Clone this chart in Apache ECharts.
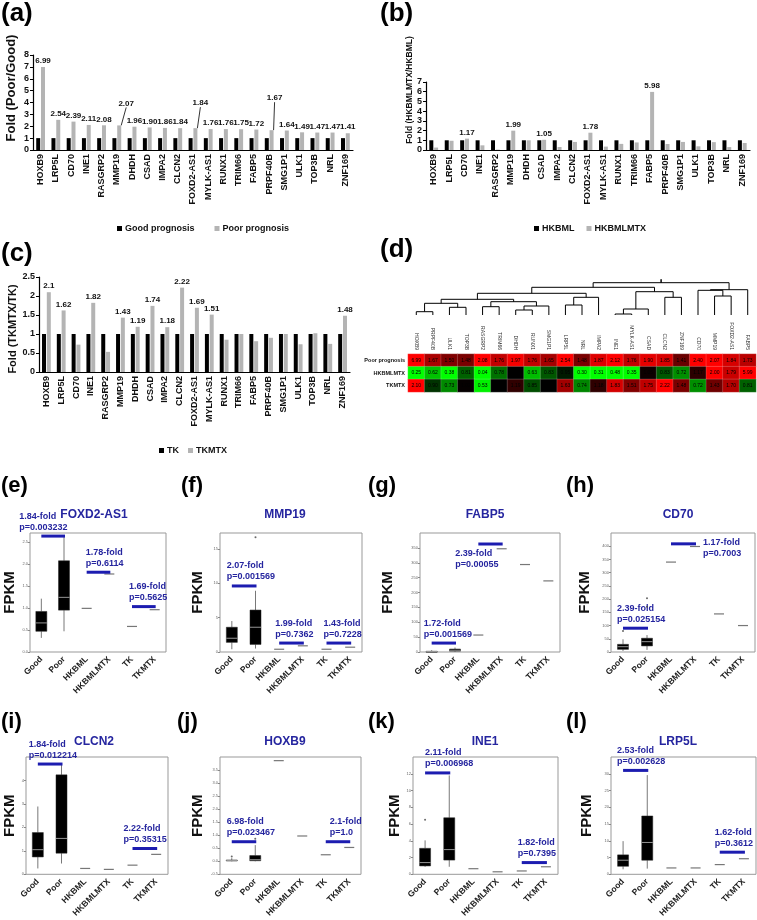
<!DOCTYPE html>
<html><head><meta charset="utf-8">
<script src="https://cdn.jsdelivr.net/npm/echarts@6/dist/echarts.min.js"></script>
<style>html,body{margin:0;padding:0;background:#fff}#c{width:757px;height:920px}</style>
</head><body><div id="c"></div>
<script>
// ---------- DATA ----------
const barCats = ['HOXB9','LRP5L','CD70','INE1','RASGRP2','MMP19','DHDH','CSAD','IMPA2','CLCN2','FOXD2-AS1','MYLK-AS1','RUNX1','TRIM66','FABP5','PRPF40B','SMG1P1','ULK1','TOP3B','NRL','ZNF169'];
const goodPrognosis = [1,1,1,1,1,1,1,1,1,1,1,1,1,1,1,1,1,1,1,1,1];
const poorPrognosis = [6.99,2.54,2.39,2.11,2.08,2.07,1.96,1.90,1.86,1.84,1.84,1.76,1.76,1.75,1.72,1.67,1.64,1.49,1.47,1.47,1.41];
const hkbml = [1,1,1,1,1,1,1,1,1,1,1,1,1,1,1,1,1,1,1,1,1];
const hkbmlmtx = [0.25,0.95,1.17,0.48,0.04,1.99,1.00,1.05,0.31,0.83,1.78,0.35,0.63,0.78,5.98,0.62,0.83,0.38,0.81,0.30,0.72];
const tk = [1,1,1,1,1,1,1,1,1,1,1,1,1,1,1,1,1,1,1,1,1];
const tkmtx = [2.1,1.62,0.72,1.82,0.53,1.43,1.19,1.74,1.18,2.22,1.69,1.51,0.85,1.00,0.81,0.90,1.00,0.73,1.02,0.74,1.48];

const heatCols = ['HOXB9','PRPF40B','ULK1','TOP3B','RASGRP2','TRIM66','DHDH','RUNX1','SMG1P1','LRP5L','NRL','IMPA2','INE1','MYLK-AS1','CSAD','CLCN2','ZNF169','CD70','MMP19','FOXD2-AS1','FABP5'];
const heatRows = ['Poor prognosis','HKBMLMTX','TKMTX'];
const heatPoor = [6.99,1.67,1.50,1.48,2.08,1.76,1.97,1.76,1.65,2.54,1.48,1.87,2.12,1.76,1.90,1.85,1.41,2.40,2.07,1.84,1.73];
const heatHKB  = [0.25,0.62,0.38,0.81,0.04,0.78,1.00,0.63,0.83,0.95,0.30,0.31,0.48,0.35,1.05,0.83,0.72,1.17,2.00,1.79,5.99];
const heatTK   = [2.10,0.90,0.73,1.02,0.53,1.00,1.19,0.85,1.00,1.63,0.74,1.18,1.83,1.51,1.75,2.22,1.48,0.72,1.43,1.70,0.81];
// dendrogram linkage: [childA, childB, height]; leaves 0..20, new clusters 21..
const dendroMerges = [[0,1,3.3],[2,3,7.7],[21,22,11.7],[4,5,8.3],[6,7,5],[25,8,9],[24,26,13.3],[23,27,15.7],[9,10,10],[29,11,17.7],[28,30,21.7],[12,13,1],[32,14,6],[15,16,17.7],[33,34,23.3],[31,35,27.7],[18,19,19],[17,37,24.7],[38,20,25.3],[36,39,32.3]];
const dendroTop = 35.7;

const boxCats = ['Good','Poor','HKBML','HKBMLMTX','TK','TKMTX'];
const foxd2Box = [[0.32,0.47,0.66,0.92,1.21],[0.47,0.95,1.24,2.07,2.64],[0.99],[1.77],[0.58],[0.96]];
const mmp19Box = [[0.4,1.4,2.0,3.6,4.5],[0.5,1.1,3.6,6.1,8.9],[0.4],[0.9],[0.4],[0.7]];
const fabp5Box = [[0,0.5,1.5,2.5,6],[1,3,6,10,15],[57],[347],[294],[239]];
const cd70Box  = [[4,10,20,29,48],[8,23,39,52,64],[340],[399],[144],[100]];
const clcn2Box = [[0.25,0.74,1.05,1.78,2.89],[0.46,0.9,1.53,4.24,4.7],[0.25],[0.21],[0.39],[0.85]];
const hoxb9Box = [[0,0.01,0.03,0.05,0.12],[0,0.02,0.06,0.22,0.62],[3.86],[0.97],[0.25],[0.53]];
const ine1Box  = [[0.9,1.0,1.4,3.1,4.05],[0.9,1.7,2.95,6.75,11.8],[0.67],[0.3],[0.4],[0.9]];
const lrp5lBox = [[1.5,2.4,4.2,5.8,9.9],[1.7,4.2,9.5,17.4,29.6],[1.9],[1.9],[2.9],[4.65]];
const foxd2Out = [], fabp5Out = [], clcn2Out = [], lrp5lOut = [];
const mmp19Out = [[1,16.7]];
const cd70Out  = [[0,79],[1,203],[1,171]];
const hoxb9Out = [[0,0.18],[1,0.86]];
const ine1Out  = [[0,6.5]];
// annotations: [fromCat, toCat, level, fold, p]
const foxd2Ann = [[0,1,2.63,'1.84-fold','p=0.003232'],[2,3,1.81,'1.78-fold','p=0.6114'],[4,5,1.03,'1.69-fold','p=0.5625']];
const mmp19Ann = [[0,1,9.6,'2.07-fold','p=0.001569'],[2,3,1.3,'1.99-fold','p=0.7362'],[4,5,1.3,'1.43-fold','p=0.7228']];
const fabp5Ann = [[0,1,30,'1.72-fold','p=0.001569'],[2,3,363,'2.39-fold','p=0.00055']];
const cd70Ann  = [[0,1,90,'2.39-fold','p=0.025154'],[2,3,409,'1.17-fold','p=0.7003']];
const clcn2Ann = [[0,1,4.7,'1.84-fold','p=0.012214'],[4,5,1.1,'2.22-fold','p=0.35315']];
const hoxb9Ann = [[0,1,0.75,'6.98-fold','p=0.023467'],[4,5,0.75,'2.1-fold','p=1.0']];
const ine1Ann  = [[0,1,12.1,'2.11-fold','p=0.006968'],[4,5,1.4,'1.82-fold','p=0.7395']];
const lrp5lAnn = [[0,1,31,'2.53-fold','p=0.002628'],[4,5,6.6,'1.62-fold','p=0.3612']];

// ---------- LAYOUT / STYLE ----------
const FONT = "'Liberation Sans', Arial, sans-serif";
const BLUE = '#25259f', BLUE_LINE = '#1c1cb0';
const grids = [], xAxes = [], yAxes = [], series = [], graphics = [];

function tagText(t, x, y, size) {
  graphics.push({type:'text', x, y, style:{text:t, font:`bold ${size}px ${FONT}`, fill:'#000', align:'left', verticalAlign:'top', textAlign:'left', textVerticalAlign:'top'}});
}
function centerText(t, x, y, size, color, rot) {
  graphics.push({type:'text', x, y, rotation: rot || 0, style:{text:t, font:`bold ${size}px ${FONT}`, fill:color, align:'center', verticalAlign:'middle', textAlign:'center', textVerticalAlign:'middle'}});
}

// bar panels
function barPanel(g, rect, max, interval) {
  grids.push({left:rect[0], top:rect[1], width:rect[2], height:rect[3]});
  xAxes.push({gridIndex:g, type:'category', data:barCats,
    axisLine:{lineStyle:{color:'#000', width:1.2}},
    axisTick:{inside:true, length:3, lineStyle:{color:'#000'}},
    axisLabel:{rotate:90, interval:0, fontSize:9, fontWeight:'bold', color:'#111', margin:4, fontFamily:FONT}});
  yAxes.push({gridIndex:g, type:'value', min:0, max, interval, splitLine:{show:false},
    axisLine:{show:true, lineStyle:{color:'#000', width:1.2}},
    axisTick:{show:true, length:3, lineStyle:{color:'#000'}},
    axisLabel:{fontSize:9, fontWeight:'bold', color:'#111', margin:4, fontFamily:FONT}});
}
barPanel(0, [33,55,320,95], 8, 1);
barPanel(1, [426,82,324,68], 7, 1);
barPanel(2, [39,277,311,95], 2.5, 0.5);

const lblStyle = {show:true, position:'top', distance:2, fontSize:8, fontWeight:'bold', color:'#111', fontFamily:FONT};
const raisedA = {5:[7,-16], 10:[5,-19], 15:[3,-26]};
series.push({type:'bar', name:'Good prognosis', xAxisIndex:0, yAxisIndex:0, data:goodPrognosis, barWidth:4, barGap:'20%', itemStyle:{color:'#000'}});
series.push({type:'bar', name:'Poor prognosis', xAxisIndex:0, yAxisIndex:0, barWidth:4,
  data: poorPrognosis.map((v,i)=> raisedA[i] ? {value:v, labelLine:{show:true, lineStyle:{color:'#000', width:0.8}}} : v),
  itemStyle:{color:'#b4b4b4'},
  label:Object.assign({}, lblStyle, {formatter:p=>Number(p.value).toFixed(2)}),
  labelLine:{show:false},
  labelLayout: p => raisedA[p.dataIndex] ? {dx:raisedA[p.dataIndex][0], dy:raisedA[p.dataIndex][1]} : {}});
series.push({type:'bar', name:'HKBML', xAxisIndex:1, yAxisIndex:1, data:hkbml, barWidth:4, barGap:'20%', itemStyle:{color:'#000'}});
series.push({type:'bar', name:'HKBMLMTX', xAxisIndex:1, yAxisIndex:1, data:hkbmlmtx, barWidth:4, itemStyle:{color:'#b4b4b4'},
  label:Object.assign({}, lblStyle, {formatter:p=> p.value > 1.001 ? String(p.value) : ''})});
series.push({type:'bar', name:'TK', xAxisIndex:2, yAxisIndex:2, data:tk, barWidth:4, barGap:'20%', itemStyle:{color:'#000'}});
series.push({type:'bar', name:'TKMTX', xAxisIndex:2, yAxisIndex:2, data:tkmtx, barWidth:4, itemStyle:{color:'#b4b4b4'},
  label:Object.assign({}, lblStyle, {formatter:p=> p.value > 1.1 ? String(p.value) : ''})});

centerText('Fold (Poor/Good)', 11, 88, 13, '#111', Math.PI/2);
centerText('Fold (HKBMLMTX/HKBML)', 410, 90, 8.5, '#111', Math.PI/2);
centerText('Fold (TKMTX/TK)', 13, 329, 11, '#111', Math.PI/2);

// heatmap (grid 3)
grids.push({left:408, top:354, width:348, height:38});
xAxes.push({gridIndex:3, type:'category', data:heatCols, position:'top', axisLine:{show:false}, axisTick:{show:false},
  axisLabel:{rotate:90, interval:0, fontSize:5, color:'#333', margin:4, fontFamily:FONT}});
yAxes.push({gridIndex:3, type:'category', data:heatRows, inverse:true, axisLine:{show:false}, axisTick:{show:false},
  axisLabel:{fontSize:5.5, fontWeight:'bold', color:'#111', margin:3, fontFamily:FONT}});
const heatData = [];
const score = v => Math.max(-1, Math.min(1, v >= 1 ? v - 1 : (v - 1) * 2));
[heatPoor, heatHKB, heatTK].forEach((row, r) => row.forEach((v, c) => heatData.push([c, r, score(v), v])));
const heatSeriesIndex = series.length;
series.push({type:'heatmap', xAxisIndex:3, yAxisIndex:3, data:heatData,
  itemStyle:{borderColor:'rgba(255,255,255,0.35)', borderWidth:0.5},
  label:{show:true, fontSize:5, color:'#000', fontFamily:FONT, formatter:p=>p.value[3].toFixed(2)}});

// dendrogram (grid 4)
grids.push({left:408, top:279, width:348, height:36});
xAxes.push({gridIndex:4, type:'value', min:-0.5, max:20.5, show:false});
yAxes.push({gridIndex:4, type:'value', min:0, max:36, show:false});
const dNodes = heatCols.map((c,i)=>({x:i, h:0}));
const dendroSegs = [];
dendroMerges.forEach(([a,b,h])=>{
  const A = dNodes[a], B = dNodes[b];
  dendroSegs.push([A.x, A.h, B.x, B.h, h]);
  dNodes.push({x:(A.x+B.x)/2, h});
});
const dRoot = dNodes[dNodes.length-1];
dendroSegs.push([dRoot.x, dRoot.h, dRoot.x, dRoot.h, dendroTop]);
series.push({type:'custom', xAxisIndex:4, yAxisIndex:4, data:dendroSegs, silent:true, encode:{x:[0,2], y:[1,3,4]},
  renderItem:(params, api)=>{
    const p1 = api.coord([api.value(0), api.value(1)]);
    const p2 = api.coord([api.value(0), api.value(4)]);
    const p3 = api.coord([api.value(2), api.value(4)]);
    const p4 = api.coord([api.value(2), api.value(3)]);
    return {type:'polyline', shape:{points:[p1,p2,p3,p4]}, style:{stroke:'#000', lineWidth:1, fill:'none'}};
  }});

// box panels
const boxPanels = [
 {tag:'(e)', title:'FOXD2-AS1', box:foxd2Box, out:foxd2Out, ann:foxd2Ann, place:[['above',-22],['above',-1],['above',-3]], grid:[30,533,136,119], axis:[0,2.7,0.5,1], tXY:[94,515], tagXY:[1,475], gap:13},
 {tag:'(f)', title:'MMP19', box:mmp19Box, out:mmp19Out, ann:mmp19Ann, place:[['above',-5],['above',-4],['above',-3]], grid:[220,533,142,119], axis:[0,17.3,5,0], tXY:[285,515], tagXY:[181,475], gap:15},
 {tag:'(g)', title:'FABP5', box:fabp5Box, out:fabp5Out, ann:fabp5Ann, place:[['above',-8],['below',-23]], grid:[420,533,140,119], axis:[0,400,50,0], tXY:[485,515], tagXY:[368,475], gap:25},
 {tag:'(h)', title:'CD70', box:cd70Box, out:cd70Out, ann:cd70Ann, place:[['above',-6],['right',7]], grid:[611,533,144,119], axis:[0,450,50,0], tXY:[678,515], tagXY:[566,475], gap:19},
 {tag:'(i)', title:'CLCN2', box:clcn2Box, out:clcn2Out, ann:clcn2Ann, place:[['above',-9],['above',-9]], grid:[26,757,142,120], axis:[0,5,1,0], tXY:[94,742], tagXY:[1,711], gap:9},
 {tag:'(j)', title:'HOXB9', box:hoxb9Box, out:hoxb9Out, ann:hoxb9Ann, place:[['above',-5],['above',4]], grid:[220,757,141,119], axis:[-0.5,4,0.5,1], tXY:[285,742], tagXY:[177,711], gap:15},
 {tag:'(k)', title:'INE1', box:ine1Box, out:ine1Out, ann:ine1Ann, place:[['above',0],['above',-4]], grid:[413,757,145,120], axis:[0,14,2,0], tXY:[485,742], tagXY:[368,711], gap:11},
 {tag:'(l)', title:'LRP5L', box:lrp5lBox, out:lrp5lOut, ann:lrp5lAnn, place:[['above',-6],['above',-5]], grid:[611,757,145,120], axis:[0,35,5,0], tXY:[678,742], tagXY:[566,711], gap:17}
];

function boxRender(params, api) {
  const i = api.value(0);
  const v = [1,2,3,4,5].map(k=>api.value(k));
  const x = api.coord([i, v[2]])[0];
  const y = v.map(val => api.coord([i, val])[1]);
  if (v[0] === v[4]) {
    return {type:'line', shape:{x1:x-5, y1:y[2], x2:x+5, y2:y[2]}, style:{stroke:'#777', lineWidth:1.2}};
  }
  const w = 11;
  return {type:'group', children:[
    {type:'line', shape:{x1:x, y1:y[0], x2:x, y2:y[1]}, style:{stroke:'#555', lineWidth:0.8}},
    {type:'line', shape:{x1:x, y1:y[3], x2:x, y2:y[4]}, style:{stroke:'#555', lineWidth:0.8}},
    {type:'rect', shape:{x:x-w/2, y:y[3], width:w, height:Math.max(1, y[1]-y[3])}, style:{fill:'#000', stroke:'#222', lineWidth:0.5}},
    {type:'line', shape:{x1:x-w/2, y1:y[2], x2:x+w/2, y2:y[2]}, style:{stroke:'#bbb', lineWidth:0.8}}
  ]};
}
function annRender(ann, place) {
  return (params, api) => {
    const k = params.dataIndex;
    const a = api.coord([api.value(0), api.value(2)]);
    const b = api.coord([api.value(1), api.value(2)]);
    const x1 = a[0], x2 = b[0] + 1, y = a[1];
    const [mode, dx] = place[k];
    let tx, t1, t2;
    if (mode === 'above') { tx = x1 + dx; t1 = y - 20; t2 = y - 9; }
    else if (mode === 'below') { tx = x1 + dx; t1 = y + 10; t2 = y + 21; }
    else { tx = x2 + dx; t1 = y - 1; t2 = y + 10; }
    const ts = (txt, yy) => ({type:'text', x:tx, y:yy, style:{text:txt, font:`bold 9px ${FONT}`, fill:BLUE, align:'left', verticalAlign:'middle', textAlign:'left', textVerticalAlign:'middle'}});
    return {type:'group', children:[
      {type:'line', shape:{x1, y1:y, x2, y2:y}, style:{stroke:BLUE_LINE, lineWidth:3}},
      ts(ann[k][3], t1), ts(ann[k][4], t2)
    ]};
  };
}

boxPanels.forEach((P, n) => {
  const g = 5 + n;
  grids.push({left:P.grid[0], top:P.grid[1], width:P.grid[2], height:P.grid[3], show:true, borderColor:'#999', borderWidth:1});
  xAxes.push({gridIndex:g, type:'category', data:boxCats, axisLine:{show:false}, axisTick:{show:false},
    axisLabel:{rotate:45, interval:0, fontSize:8.5, fontWeight:'bold', color:'#222', margin:6, fontFamily:FONT}});
  const dec = P.axis[3];
  yAxes.push({gridIndex:g, type:'value', min:P.axis[0], max:P.axis[1], interval:P.axis[2],
    name:'FPKM', nameLocation:'middle', nameGap:P.gap, nameTextStyle:{fontSize:15, fontWeight:'bold', color:'#111', fontFamily:FONT},
    splitLine:{show:false}, axisLine:{show:false}, axisTick:{show:true, length:2, lineStyle:{color:'#888'}},
    axisLabel:{fontSize:4, color:'#666', margin:2, showMaxLabel:false, formatter:v => dec ? v.toFixed(1) : String(v)}});
  const rows = P.box.map((r,i) => r.length === 1 ? [i, r[0], r[0], r[0], r[0], r[0]] : [i].concat(r));
  series.push({type:'custom', xAxisIndex:g, yAxisIndex:g, data:rows, encode:{x:0, y:[1,2,3,4,5]}, renderItem:boxRender, silent:true});
  if (P.out.length) series.push({type:'scatter', xAxisIndex:g, yAxisIndex:g, data:P.out, symbolSize:2, itemStyle:{color:'#444'}, silent:true});
  series.push({type:'custom', xAxisIndex:g, yAxisIndex:g, data:P.ann.map(r=>[r[0], r[1], r[2]]), encode:{x:[0,1], y:2},
    renderItem:annRender(P.ann, P.place), silent:true});
  tagText(P.tag, P.tagXY[0], P.tagXY[1], 22);
  centerText(P.title, P.tXY[0], P.tXY[1], 12, BLUE, 0);
});

tagText('(a)', 1, 1, 26);
tagText('(b)', 380, 1, 26);
tagText('(c)', 1, 241, 26);
tagText('(d)', 380, 237, 26);

const legendBase = {orient:'horizontal', icon:'rect', itemWidth:5, itemHeight:5, padding:0,
  textStyle:{fontSize:9, fontWeight:'bold', color:'#111', fontFamily:FONT, padding:[0,0,0,-2]}};
const legends = [
  Object.assign({}, legendBase, {data:['Good prognosis','Poor prognosis'], left:117, top:224, itemGap:20}),
  Object.assign({}, legendBase, {data:['HKBML','HKBMLMTX'], left:534, top:224, itemGap:12}),
  Object.assign({}, legendBase, {data:['TK','TKMTX'], left:159, top:446, itemGap:9})
];

const chart = echarts.init(document.getElementById('c'), null, {width:757, height:920});
chart.setOption({
  animation:false,
  backgroundColor:'#fff',
  textStyle:{fontFamily:FONT},
  legend:legends,
  grid:grids,
  xAxis:xAxes,
  yAxis:yAxes,
  visualMap:[{type:'continuous', show:false, seriesIndex:heatSeriesIndex, dimension:2, min:-1, max:1,
    inRange:{color:['#00ff00','#000000','#ff0000']}}],
  graphic:graphics,
  series
});
</script></body></html>
